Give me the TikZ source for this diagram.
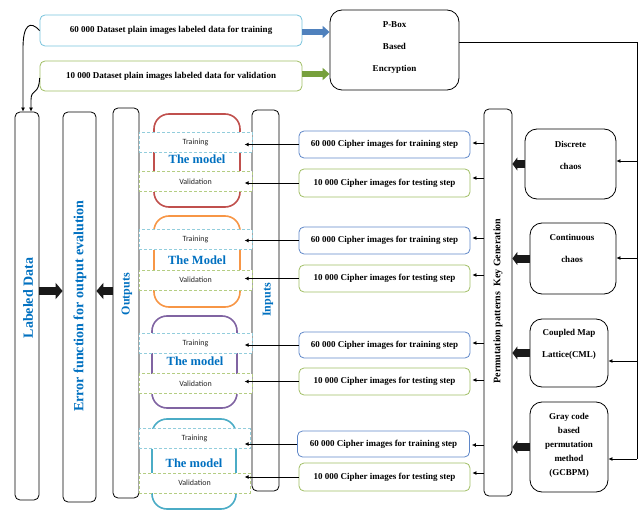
\documentclass[tikz,border=0pt]{standalone}
\usepackage{fontspec}
\setmainfont{Liberation Serif}
\newfontfamily\calib{Carlito}
\usetikzlibrary{arrows.meta}
\definecolor{cyanL}{RGB}{120,195,220}
\definecolor{greenL}{RGB}{160,190,100}
\definecolor{blueC}{RGB}{95,135,200}
\definecolor{arrBlue}{RGB}{79,129,189}
\definecolor{arrGreen}{RGB}{119,160,60}
\definecolor{mRed}{RGB}{192,80,77}
\definecolor{mOrange}{RGB}{247,150,70}
\definecolor{mPurple}{RGB}{128,100,162}
\definecolor{mCyan}{RGB}{75,172,198}
\definecolor{txtBlue}{RGB}{0,112,192}
\definecolor{dashCyan}{RGB}{146,205,220}
\definecolor{dashGreen}{RGB}{180,205,130}
\begin{document}
\begin{tikzpicture}[x=1pt,y=-1pt,
  bf/.style={font=\bfseries\fontsize{9}{10}\selectfont},
  tbox/.style={draw, rounded corners=5pt, line width=0.8pt, inner sep=0pt, bf, align=center},
  cbox/.style={draw, rounded corners=12pt, line width=0.8pt, inner sep=0pt},
  lbl/.style={bf, align=center, inner sep=0pt},
  col/.style={draw, rounded corners=5pt, line width=0.8pt, inner sep=0pt},
  coltext/.style={rotate=90, text=txtBlue, font=\bfseries\fontsize{12}{14}\selectfont, inner sep=0pt},
  modelrect/.style={draw, rounded corners=15pt, line width=1.6pt, inner sep=0pt},
  dbox/.style={draw, fill=white, line width=0.8pt, dash pattern=on 3pt off 2pt, inner sep=0pt,
     minimum width=113pt, minimum height=20pt, font=\calib\fontsize{8}{9}\selectfont, text=black!85},
  modeltext/.style={text=txtBlue, font=\bfseries\fontsize{12.5}{14}\selectfont, inner sep=0pt},
  arr/.style={-{Latex[length=4pt,width=4pt]}, line width=0.9pt},
  bigarr/.style={line width=8pt, -{Triangle[length=7pt,width=16pt]}, black!90},
  chaosarr/.style={line width=8pt, -{Triangle[length=5pt,width=13pt]}, black!90},
  toparr/.style={line width=6pt, -{Triangle[length=7pt,width=12pt]}}
]
\useasboundingbox (0,0) rectangle (641,511);

% top boxes
\node[tbox, draw=cyanL, minimum width=262pt, minimum height=31pt] (t1) at (171,30.5) {60 000 Dataset plain images labeled data for training};
\node[tbox, draw=greenL, minimum width=262pt, minimum height=30pt] (t2) at (171,76) {10 000 Dataset plain images labeled data for validation};
\node[cbox, minimum width=129pt, minimum height=80pt] (pbox) at (394.5,50) {};
\node[lbl] (pboxt) at (394.5,47.5) {P-Box\\[12pt]Based\\[12pt]Encryption};

\draw[toparr, arrBlue] (t1.east |- 0,32) -- (pbox.west |- 0,32);
\draw[toparr, arrGreen] (t2.east |- 0,74) -- (pbox.west |- 0,74);

% columns
\node[col, minimum width=24pt, minimum height=388pt] (lab) at (27,306) {};
\node[col, minimum width=33pt, minimum height=390pt] (err) at (79.5,307) {};
\node[col, minimum width=26pt, minimum height=390pt] (outp) at (126,303) {};
\node[col, minimum width=27pt, minimum height=381pt] (inp) at (265.5,300.5) {};
\node[col, minimum width=28pt, minimum height=387pt] (perm) at (498,302.5) {};

\node[coltext, font=\bfseries\fontsize{14}{16}\selectfont] (labt) at (28,298) {Labeled Data};
\node[coltext, font=\bfseries\fontsize{14}{16}\selectfont] (errt) at (80,306) {Error function for output evalution};
\node[coltext] (outpt) at (127,294) {Outputs};
\node[coltext] (inpt) at (268,300) {Inputs};
\node[rotate=90, inner sep=0pt, font=\bfseries\fontsize{10}{11}\selectfont] (permt) at (498,301) {Permutation patterns\ \ Key Generation};

% curves to labeled data
\draw[arr] (t1.west) .. controls (30,20) and (23,25) .. (23,48) -- ([xshift=-4pt]lab.north);
\draw[arr] ([yshift=-2pt]t2.west) .. controls (39,96) and (31,88) .. (31,100) -- ([xshift=4pt]lab.north);

% big arrows between columns
\draw[bigarr] (lab.east |- 0,291) -- (err.west |- 0,291);
\draw[bigarr] (outp.west |- 0,291) -- (err.east |- 0,291);

% models
\node[modelrect, draw=mRed, minimum width=86pt, minimum height=93pt] (m1) at (197,160.5) {};
\node[modelrect, draw=mOrange, minimum width=86pt, minimum height=91pt] (m2) at (197,261.5) {};
\node[modelrect, draw=mPurple, minimum width=85pt, minimum height=92pt] (m3) at (194.5,362) {};
\node[modelrect, draw=mCyan, minimum width=84pt, minimum height=90pt] (m4) at (194,464) {};

\node[dbox, draw=dashCyan] (tr1) at (195.5,142) {Training};
\node[dbox, draw=dashGreen] (va1) at (195.5,181.5) {Validation};
\node[dbox, draw=dashCyan] (tr2) at (195.5,239.5) {Training};
\node[dbox, draw=dashGreen] (va2) at (195.5,280) {Validation};
\node[dbox, draw=dashCyan] (tr3) at (195.5,343) {Training};
\node[dbox, draw=dashGreen] (va3) at (195.5,383.5) {Validation};
\node[dbox, draw=dashCyan, minimum width=111pt] (tr4) at (194.5,438.5) {Training};
\node[dbox, draw=dashGreen, minimum width=111pt] (va4) at (194.5,483) {Validation};

\node[modeltext] (mt1) at (197,159) {The model};
\node[modeltext] (mt2) at (197,260) {The Model};
\node[modeltext] (mt3) at (195,361) {The model};
\node[modeltext] (mt4) at (194,463) {The model};

% cipher boxes
\node[tbox, draw=blueC, minimum width=171pt, minimum height=27pt] (c1) at (384.5,144.5) {60 000 Cipher images for training step};
\node[tbox, draw=greenL, minimum width=171pt, minimum height=28pt] (c2) at (384.5,183) {10 000 Cipher images for testing step};
\node[tbox, draw=blueC, minimum width=171pt, minimum height=27pt] (c3) at (384.5,240.5) {60 000 Cipher images for training step};
\node[tbox, draw=greenL, minimum width=171pt, minimum height=27pt] (c4) at (384.5,278.5) {10 000 Cipher images for testing step};
\node[tbox, draw=blueC, minimum width=171pt, minimum height=26pt] (c5) at (384.5,345) {60 000 Cipher images for training step};
\node[tbox, draw=greenL, minimum width=171pt, minimum height=27pt] (c6) at (384.5,381.5) {10 000 Cipher images for testing step};
\node[tbox, draw=blueC, minimum width=172pt, minimum height=26pt] (c7) at (383.5,444) {60 000 Cipher images for training step};
\node[tbox, draw=greenL, minimum width=171pt, minimum height=28pt] (c8) at (384.5,477) {10 000 Cipher images for testing step};

\foreach \c in {c1,c2,c3,c4,c5,c6,c7,c8}{
  \draw[arr] (\c.west) -- ([xshift=-7pt]\c.west -| inp.west);
}
\draw[arr] (perm.west |- 0,143) -- ([xshift=2pt]c1.east |- 0,143);
\draw[arr] (perm.west |- 0,178) -- ([xshift=2pt]c2.east |- 0,178);
\draw[arr] (perm.west |- 0,238) -- ([xshift=2pt]c3.east |- 0,238);
\draw[arr] (perm.west |- 0,275) -- ([xshift=2pt]c4.east |- 0,275);
\draw[arr] (perm.west |- 0,343) -- ([xshift=2pt]c5.east |- 0,343);
\draw[arr] (perm.west |- 0,380) -- ([xshift=2pt]c6.east |- 0,380);
\draw[arr] (perm.west |- 0,445) -- ([xshift=2pt]c7.east |- 0,445);
\draw[arr] (perm.west |- 0,473) -- ([xshift=2pt]c8.east |- 0,473);

% chaos boxes
\node[cbox, minimum width=91pt, minimum height=70pt] (dis) at (570.5,164) {};
\node[lbl] (dist) at (570.5,155) {Discrete\\[12pt]chaos};
\node[cbox, minimum width=86pt, minimum height=71pt] (con) at (573,258.5) {};
\node[lbl] (cont) at (572,248) {Continuous\\[12pt]chaos};
\node[cbox, minimum width=78pt, minimum height=68pt] (cml) at (569,353) {};
\node[lbl] (cmlt) at (569,344.5) {Coupled Map\\[12pt]Lattice(CML)};
\node[cbox, minimum width=78pt, minimum height=90pt] (gray) at (569,447) {};
\node[lbl] (grayt) at (569,445) {Gray code\\[4pt]based\\[4pt]permutation\\[4pt]method\\[4pt](GCBPM)};

\draw[chaosarr] (dis.west) -- (dis.west -| perm.east);
\draw[chaosarr] (con.west) -- (con.west -| perm.east);
\draw[chaosarr] (cml.west) -- (cml.west -| perm.east);
\draw[chaosarr] (gray.west) -- (gray.west -| perm.east);

% right bus
\coordinate (rt) at (637,42);
\coordinate (rb) at (637,459);
\draw[line width=0.9pt] ([yshift=8pt]pbox.east) -- (rt) -- (rb);
\draw[arr] (rt |- 0,161) -- (dis.east |- 0,161);
\draw[arr] (rt |- 0,258) -- (con.east |- 0,258);
\draw[arr] (rt |- 0,361) -- (cml.east |- 0,361);
\draw[arr] (rb) -- (gray.east |- rb);
\end{tikzpicture}
\end{document}
